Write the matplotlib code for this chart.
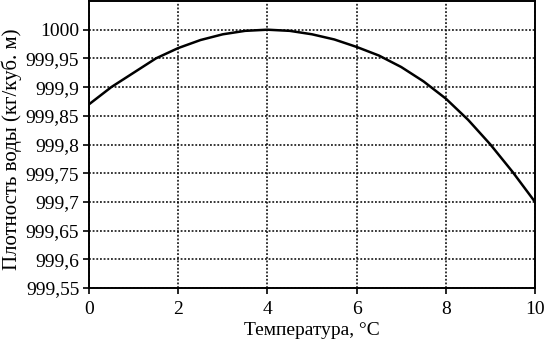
import matplotlib
matplotlib.use("Agg")
import matplotlib.pyplot as plt
from matplotlib.ticker import FuncFormatter

temperature = [0, 0.5, 1, 1.5, 2, 2.5, 3, 3.5, 4, 4.5, 5, 5.5, 6, 6.5, 7, 7.5, 8, 8.5, 9, 9.5, 10]
density = [999.870, 999.900, 999.925, 999.950, 999.968, 999.982, 999.992, 999.998, 1000.000,
           999.998, 999.992, 999.983, 999.970, 999.955, 999.935, 999.910, 999.880, 999.843,
           999.800, 999.752, 999.700]
x_ticks = [0, 2, 4, 6, 8, 10]
y_ticks = [999.55, 999.6, 999.65, 999.7, 999.75, 999.8, 999.85, 999.9, 999.95, 1000]

plt.rcParams['font.family'] = ['Liberation Serif', 'DejaVu Serif']

fig = plt.figure(figsize=(5.44, 3.39), dpi=100)
ax = fig.add_axes([89/544, 1 - 288/339, (535 - 89)/544, (288 - 1)/339])

ax.plot(temperature, density, color='black', linewidth=1.8, zorder=3)

ax.set_xlim(0, 10)
ax.set_ylim(999.55, 1000.05)
ax.set_xticks(x_ticks)
ax.set_yticks(y_ticks)

def fmt(v, pos):
    s = ('%.2f' % v).rstrip('0').rstrip('.')
    return s.replace('.', ',')

ax.yaxis.set_major_formatter(FuncFormatter(fmt))
ax.xaxis.set_major_formatter(FuncFormatter(lambda v, p: '%d' % v))

ax.grid(True, color='black', linestyle=(0, (1.2, 1.2)), linewidth=1.1)
ax.set_axisbelow(True)
for sp in ax.spines.values():
    sp.set_linewidth(1.4)
    sp.set_color('black')

ax.tick_params(direction='out', length=4, width=1.2, labelsize=14, colors='black', pad=3)
ax.tick_params(axis='x', pad=5)
ax.set_xlabel('Температура, °C', fontsize=14, labelpad=3)
ax.set_ylabel('Плотность воды (кг/куб. м)', fontsize=15)
ax.yaxis.set_label_coords(-77/446, (288 - 149)/287)
ax.yaxis.label.set_verticalalignment('center')

fig.savefig('out.png', dpi=100)
